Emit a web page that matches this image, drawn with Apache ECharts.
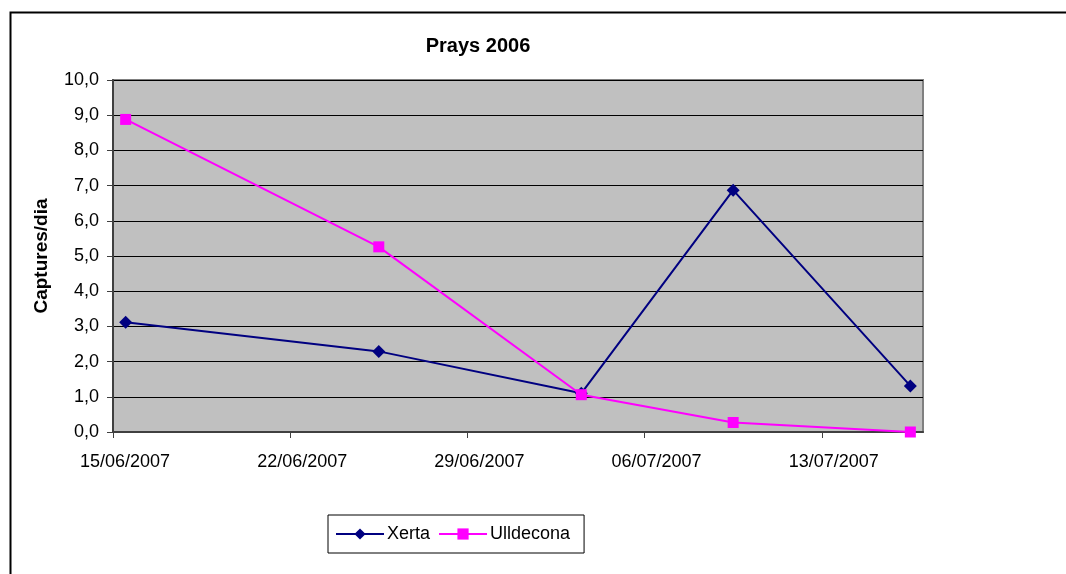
<!DOCTYPE html>
<html>
<head>
<meta charset="utf-8">
<script src="https://cdn.jsdelivr.net/npm/echarts@6/dist/echarts.min.js"></script>
<style>
  html, body { margin: 0; padding: 0; background: #fff; }
  #main { width: 1066px; height: 574px; }
</style>
</head>
<body>
<div id="main"></div>
<script>
// sampling dates and captures per day
var dates = ['2007-06-15', '2007-06-25', '2007-07-03', '2007-07-09', '2007-07-16'];
var xerta = [3.12, 2.29, 1.10, 6.87, 1.31];
var ulldecona = [8.88, 5.26, 1.06, 0.27, 0.0];
var xTickLabels = ['15/06/2007', '22/06/2007', '29/06/2007', '06/07/2007', '13/07/2007'];

var DAY = 24 * 3600 * 1000;
var start = Date.UTC(2007, 5, 15);

// Excel date axis puts each point in the middle of its day
function dayPos(d) {
  var p = d.split('-');
  return (Date.UTC(+p[0], +p[1] - 1, +p[2]) - start) / DAY + 0.5;
}

function pairs(vals) {
  var out = [];
  for (var i = 0; i < dates.length; i++) out.push([dayPos(dates[i]), vals[i]]);
  return out;
}

var font = 'Liberation Sans, Arial, sans-serif';
var myChart = echarts.init(document.getElementById('main'));

var option = {
  animation: false,
  backgroundColor: '#fff',
  title: {
    text: 'Prays 2006',
    left: 473,
    top: 31,
    textAlign: 'center',
    textStyle: { fontFamily: font, fontSize: 20, fontWeight: 'bold', color: '#000' }
  },
  legend: {
    left: 328,
    top: 515,
    padding: [10, 14, 10, 7],
    itemGap: 8,
    itemWidth: 48,
    itemHeight: 14,
    borderColor: '#000',
    borderWidth: 1,
    textStyle: { fontFamily: font, fontSize: 18, color: '#000', padding: [0, 0, 0, -2] },
    data: ['Xerta', 'Ulldecona']
  },
  grid: {
    left: 113,
    top: 80,
    right: 143,
    bottom: 142,
    show: true,
    backgroundColor: '#c0c0c0',
    borderColor: '#808080',
    borderWidth: 2
  },
  xAxis: {
    type: 'value',
    min: 0,
    max: 32,
    interval: 7,
    axisLine: { show: true, onZero: false, lineStyle: { color: '#404040', width: 2 } },
    axisTick: { show: true, length: 6, lineStyle: { color: '#404040' } },
    splitLine: { show: false },
    axisLabel: {
      fontFamily: font, fontSize: 18, color: '#000', margin: 21,
      padding: [0, 0, 0, 24],
      showMaxLabel: false,
      formatter: function (v) { return xTickLabels[Math.round(v / 7)] || ''; }
    }
  },
  yAxis: {
    type: 'value',
    min: 0,
    max: 10,
    interval: 1,
    name: 'Captures/dia',
    nameLocation: 'middle',
    nameGap: 62,
    nameTextStyle: { fontFamily: font, fontSize: 19, fontWeight: 'bold', color: '#000' },
    axisLine: { show: true, lineStyle: { color: '#404040', width: 2 } },
    axisTick: { show: true, length: 6, lineStyle: { color: '#404040' } },
    splitLine: { show: true, lineStyle: { color: '#000', width: 1 } },
    axisLabel: {
      fontFamily: font, fontSize: 18, color: '#000', margin: 14,
      formatter: function (v) { return v.toFixed(1).replace('.', ','); }
    }
  },
  graphic: [{
    type: 'rect',
    left: 8,
    top: 10,
    shape: { width: 1200, height: 700 },
    style: { fill: 'none', stroke: '#000', lineWidth: 2 },
    silent: true,
    z: -1
  }],
  series: [
    {
      name: 'Xerta',
      type: 'line',
      data: pairs(xerta),
      color: '#000080',
      symbol: 'diamond',
      symbolSize: 13,
      lineStyle: { width: 2, color: '#000080' },
      itemStyle: { color: '#000080' }
    },
    {
      name: 'Ulldecona',
      type: 'line',
      data: pairs(ulldecona),
      color: '#ff00ff',
      symbol: 'rect',
      symbolSize: 11,
      lineStyle: { width: 2, color: '#ff00ff' },
      itemStyle: { color: '#ff00ff' }
    }
  ]
};

myChart.setOption(option);
</script>
</body>
</html>
